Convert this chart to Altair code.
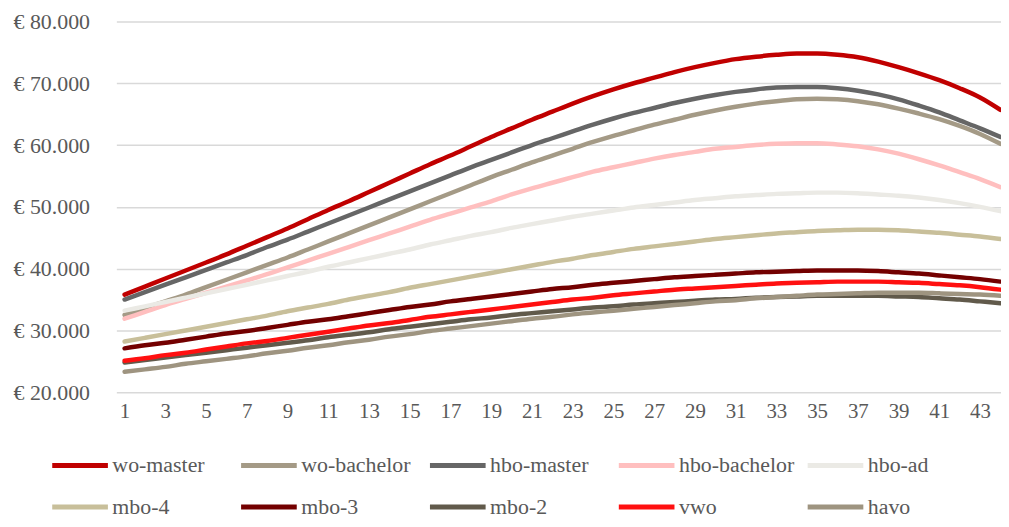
import altair as alt
import pandas as pd

jaren = list(range(1, 45))

wo_master = [35800, 37100, 38400, 39700, 41000, 42300, 43700, 45100, 46500, 48000,
             49500, 50900, 52400, 53900, 55400, 56900, 58300, 59800, 61300, 62700,
             64100, 65400, 66700, 67900, 69000, 70000, 70900, 71800, 72600, 73300,
             73900, 74300, 74600, 74800, 74800, 74600, 74200, 73500, 72600, 71600,
             70500, 69200, 67700, 65700]
wo_bachelor = [32500, 33600, 34700, 35800, 37000, 38200, 39400, 40600, 41800, 43100,
               44400, 45700, 47000, 48300, 49600, 50900, 52200, 53500, 54800, 56000,
               57200, 58300, 59400, 60500, 61500, 62400, 63300, 64100, 64900, 65600,
               66200, 66700, 67100, 67400, 67500, 67400, 67100, 66600, 65900, 65100,
               64200, 63100, 61800, 60200]
hbo_master = [35000, 36200, 37400, 38600, 39800, 41000, 42200, 43500, 44700, 46000,
              47300, 48600, 49900, 51200, 52500, 53800, 55100, 56400, 57600, 58800,
              60000, 61100, 62200, 63300, 64300, 65200, 66000, 66800, 67500, 68100,
              68600, 69000, 69300, 69400, 69400, 69200, 68800, 68200, 67400, 66400,
              65300, 64000, 62700, 61300]
hbo_bachelor = [31900, 33000, 34100, 35100, 36100, 37100, 38100, 39100, 40200, 41300,
                42400, 43500, 44600, 45700, 46800, 47900, 48900, 49900, 50900, 52000,
                53000, 53900, 54800, 55700, 56400, 57100, 57800, 58400, 58900, 59400,
                59700, 60000, 60200, 60300, 60300, 60100, 59800, 59300, 58600, 57700,
                56700, 55600, 54500, 53200]
hbo_ad = [33200, 33900, 34600, 35300, 36000, 36700, 37400, 38100, 38800, 39500,
          40300, 41000, 41700, 42400, 43100, 43900, 44600, 45300, 45900, 46600,
          47200, 47800, 48400, 48900, 49400, 49900, 50300, 50700, 51100, 51400,
          51700, 51900, 52100, 52200, 52300, 52300, 52200, 52000, 51800, 51500,
          51100, 50600, 50000, 49300]
mbo_4 = [28200, 28800, 29400, 30000, 30600, 31200, 31800, 32400, 33100, 33700,
         34300, 35000, 35600, 36200, 36900, 37500, 38100, 38700, 39300, 39900,
         40500, 41100, 41600, 42200, 42700, 43200, 43600, 44000, 44400, 44800,
         45100, 45400, 45700, 45900, 46100, 46200, 46300, 46300, 46200, 46000,
         45800, 45500, 45200, 44800]
mbo_3 = [27100, 27600, 28000, 28500, 29000, 29500, 29900, 30400, 30900, 31400,
         31800, 32300, 32800, 33300, 33800, 34200, 34700, 35100, 35500, 35900,
         36300, 36700, 37000, 37400, 37700, 38000, 38300, 38600, 38800, 39000,
         39200, 39400, 39500, 39600, 39700, 39700, 39700, 39600, 39400, 39200,
         38900, 38600, 38300, 37900]
mbo_2 = [24800, 25200, 25600, 26000, 26400, 26800, 27200, 27600, 28000, 28400,
         28900, 29300, 29700, 30200, 30600, 31000, 31400, 31800, 32100, 32500,
         32800, 33100, 33400, 33700, 33900, 34200, 34400, 34600, 34800, 35000,
         35100, 35300, 35400, 35500, 35600, 35600, 35600, 35600, 35500, 35400,
         35200, 35000, 34700, 34400]
vwo = [25100, 25500, 26000, 26400, 26900, 27400, 27900, 28300, 28800, 29300,
       29800, 30300, 30800, 31200, 31700, 32200, 32600, 33000, 33400, 33800,
       34200, 34600, 35000, 35300, 35700, 36000, 36300, 36600, 36800, 37000,
       37200, 37400, 37600, 37700, 37800, 37900, 37900, 37900, 37800, 37700,
       37500, 37300, 37000, 36600]
havo = [23300, 23700, 24100, 24600, 25000, 25400, 25800, 26300, 26700, 27200,
        27600, 28100, 28500, 29000, 29400, 29900, 30300, 30700, 31100, 31500,
        31900, 32200, 32600, 32900, 33200, 33500, 33800, 34100, 34400, 34700,
        34900, 35200, 35400, 35600, 35800, 35900, 36000, 36100, 36100, 36100,
        36000, 35900, 35800, 35600]

series_names = ["wo-master", "wo-bachelor", "hbo-master", "hbo-bachelor", "hbo-ad",
                "mbo-4", "mbo-3", "mbo-2", "vwo", "havo"]
series_values = [wo_master, wo_bachelor, hbo_master, hbo_bachelor, hbo_ad,
                 mbo_4, mbo_3, mbo_2, vwo, havo]
colors = ["#C00000", "#A49A86", "#666666", "#FFBFBF", "#EBEAE5",
          "#C8BF9A", "#730000", "#615A4B", "#FF1010", "#9E9480"]
x_ticks = list(range(1, 44, 2))
y_ticks = [20000, 30000, 40000, 50000, 60000, 70000, 80000]

rows = []
for name, vals in zip(series_names, series_values):
    for j, v in zip(jaren, vals):
        rows.append({"jaar": j, "serie": name, "salaris": v})
df = pd.DataFrame(rows)

font = "Liberation Serif"
txt = "#595959"

chart = alt.Chart(df).mark_line(
    strokeWidth=4.5, strokeCap="round", strokeJoin="round", interpolate="monotone"
).encode(
    x=alt.X("jaar:Q",
            scale=alt.Scale(domain=[0.595, 44.03], nice=False, zero=False),
            axis=alt.Axis(values=x_ticks, title=None, grid=False, ticks=False, domain=False,
                          labelFont=font, labelFontSize=21, labelColor=txt, labelPadding=8,
                          labelFlush=False)),
    y=alt.Y("salaris:Q",
            scale=alt.Scale(domain=[20000, 80000], nice=False, zero=False),
            axis=alt.Axis(values=y_ticks, title=None, ticks=False, domain=False,
                          gridColor="#D9D9D9", gridWidth=1.5,
                          labelExpr="'€ ' + replace(format(datum.value, ',.0f'), ',', '.')",
                          labelFont=font, labelFontSize=22, labelColor=txt, labelPadding=27)),
    color=alt.Color("serie:N",
                    scale=alt.Scale(domain=series_names, range=colors),
                    legend=alt.Legend(orient="none", legendX=-67, legendY=416,
                                      direction="horizontal", columns=5, gridAlign="all",
                                      title=None, symbolType="stroke", symbolSize=3136,
                                      symbolStrokeWidth=5, labelFont=font, labelFontSize=22,
                                      labelColor=txt, labelOffset=2, labelLimit=300,
                                      columnPadding=2, rowPadding=-16)),
).properties(
    width=890, height=373,
    padding={"left": 109, "top": 12, "right": 0, "bottom": 126},
    autosize="none",
).configure_view(stroke=None)

chart.save("out.html", embed_options={"renderer": "svg", "actions": False})
